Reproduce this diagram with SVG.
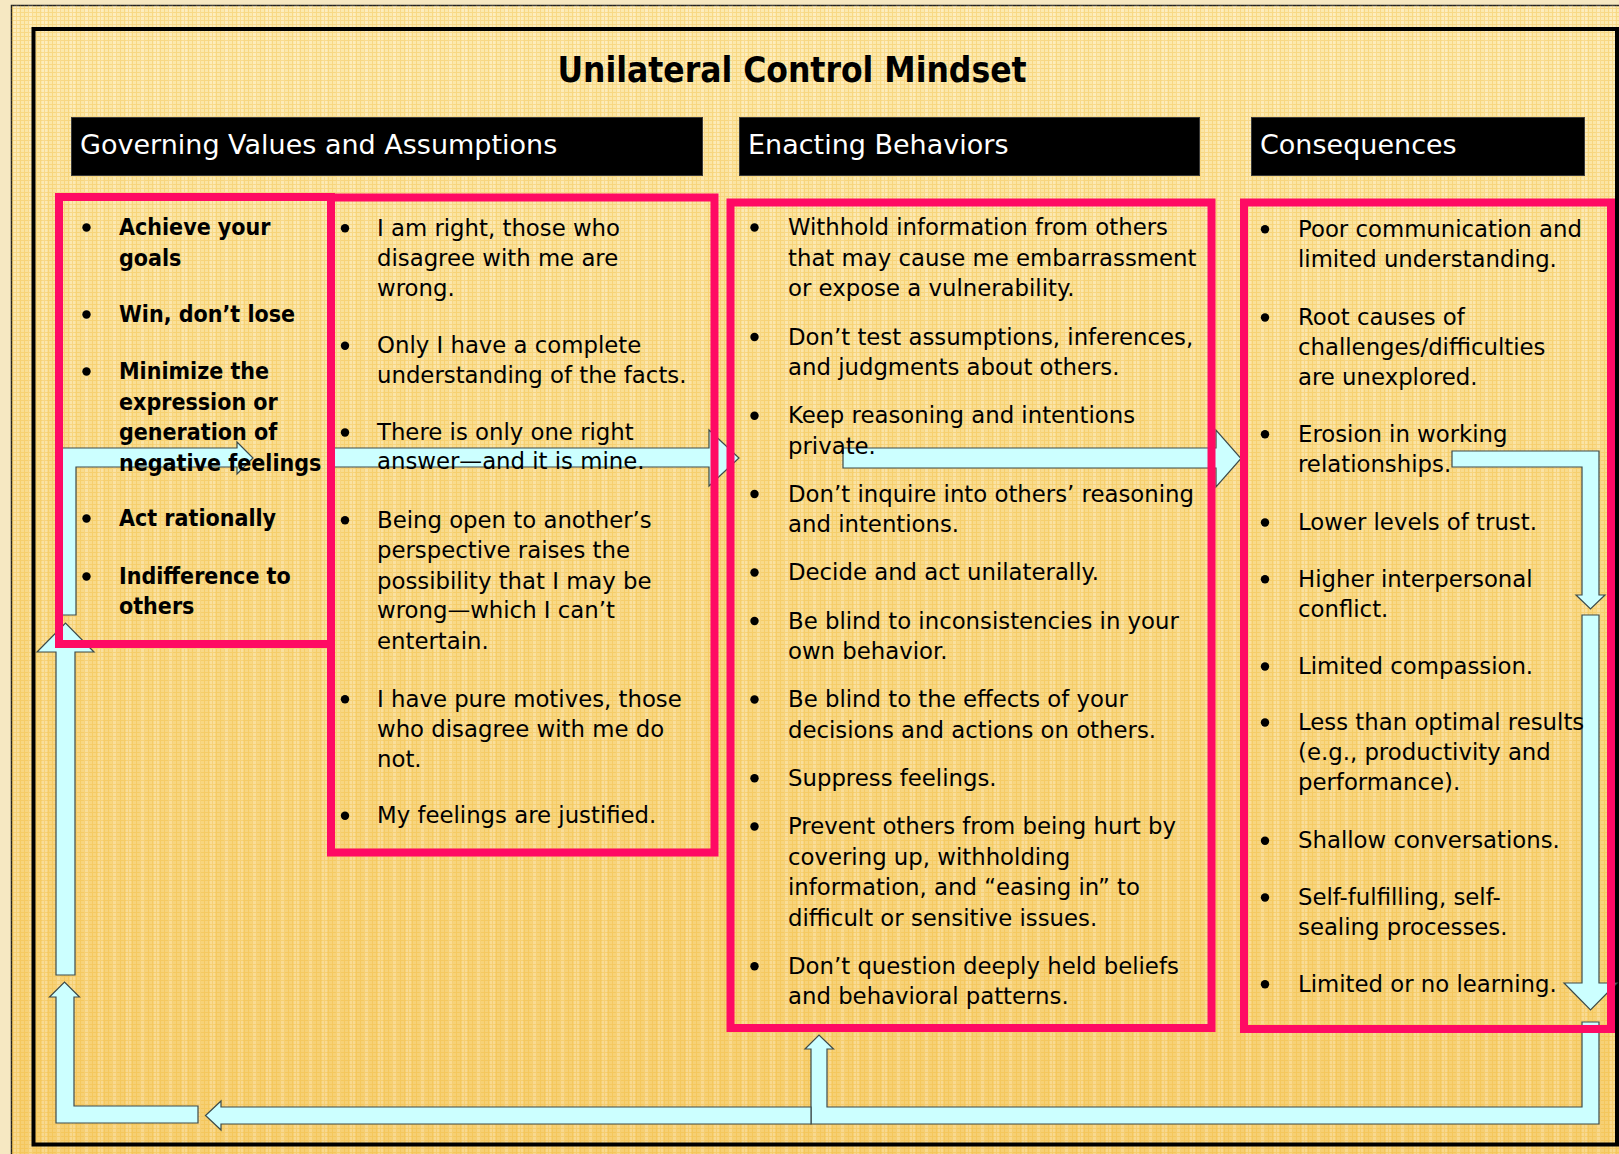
<svg xmlns="http://www.w3.org/2000/svg" width="1619" height="1154" viewBox="0 0 1619 1154">
<defs>
<linearGradient id="bgGrad" x1="0" y1="0" x2="0" y2="1">
<stop offset="0" stop-color="#FCEAB0"/>
<stop offset="0.4" stop-color="#F9DC8E"/>
<stop offset="1" stop-color="#F6CF72"/>
</linearGradient>
<pattern id="grid" width="4" height="4" patternUnits="userSpaceOnUse">
<path d="M0 0.5H4M0.5 0V4" stroke="#EFB22A" stroke-width="1" opacity="0.32"/>
</pattern>
<pattern id="stripes" width="14" height="10" patternUnits="userSpaceOnUse">
<rect width="5" height="10" fill="#FFFFFF" opacity="0.2"/>
</pattern>
<style>
.pink{fill:none;stroke:#FF0A64;stroke-width:8}
.hdr{fill:#000;stroke:#3A3A3A;stroke-width:1}
.hdrt{fill:#FFFFFF;font-family:"DejaVu Sans",sans-serif;font-size:27px}
.body{fill:#000;font-family:"DejaVu Sans",sans-serif;font-size:22.8px}
.bold{fill:#000;font-family:"DejaVu Sans Condensed","DejaVu Sans",sans-serif;font-stretch:condensed;font-weight:bold;font-size:23px}
.title{fill:#000;font-family:"DejaVu Sans Condensed","DejaVu Sans",sans-serif;font-stretch:condensed;font-weight:bold;font-size:35px}
.arr{fill:#CCFFFF;stroke:#3C4A4A;stroke-width:1.2;stroke-linejoin:miter}
.dot{fill:#000}
</style>
</defs>

<g id="background">
<rect width="1619" height="1154" fill="#F6E8C2"/>
<rect x="11.5" y="5.5" width="1620" height="1160" fill="url(#bgGrad)" stroke="#222" stroke-width="1.5"/>
<rect x="11.5" y="5.5" width="1620" height="1160" fill="url(#stripes)"/>
<rect x="11.5" y="5.5" width="1620" height="1160" fill="url(#grid)"/>
<rect x="33.5" y="29" width="1583.5" height="1115.5" fill="none" stroke="#000" stroke-width="4"/>
</g>

<g id="title">
<text class="title" x="792" y="82" text-anchor="middle">Unilateral Control Mindset</text>
</g>

<g id="header-governing">
<rect class="hdr" x="71.5" y="117.5" width="631" height="58"/>
<text class="hdrt" x="80" y="154">Governing Values and Assumptions</text>
</g>
<g id="header-enacting">
<rect class="hdr" x="739.5" y="117.5" width="460" height="58"/>
<text class="hdrt" x="748" y="154">Enacting Behaviors</text>
</g>
<g id="header-consequences">
<rect class="hdr" x="1251.5" y="117.5" width="333" height="58"/>
<text class="hdrt" x="1260" y="154">Consequences</text>
</g>

<g id="connectors">
<polygon id="arrow-a-loop" class="arr" points="57,615 57,448 237,448 237,442 253,458 237,474 237,467 76,467 76,615"/>
<polygon id="arrow-left-up" class="arr" points="56,975 56,652 37,652 65.5,623 94,652 75,652 75,975"/>
<polygon id="arrow-bottom-left" class="arr" points="198,1106 74,1106 74,997 79.5,997 64.5,982 49.5,997 56,997 56,1123 198,1123"/>
<polygon id="arrow-bottom-right" class="arr" points="1582,1022 1599,1022 1599,1124 811,1124 811,1049 805,1049 819,1035 833.5,1049 827,1049 827,1107 1582,1107"/>
<polygon id="arrow-bottom" class="arr" points="811,1107 221,1107 221,1101 205.5,1115.5 221,1130 221,1124 811,1124"/>
<polygon id="arrow-right-down" class="arr" points="1582,615 1599,615 1599,983 1617,983 1590.5,1010 1564,983 1582,983"/>
<polygon id="arrow-d-down" class="arr" points="1452,451 1599,451 1599,595 1605,595 1590.5,609 1576,595 1582,595 1582,467 1452,467"/>
<polygon id="arrow-c-to-d" class="arr" points="843,448 1216,448 1216,430 1241,458.5 1216,487 1216,468 843,468"/>
<polygon id="arrow-b-to-c" class="arr" points="331,448 709,448 709,430 739,458 709,486 709,467 331,467"/>
</g>

<g id="values-box">
<rect class="pink" x="59" y="197" width="272" height="447"/>
<circle class="dot" cx="86.5" cy="227.5" r="4.2"/>
<circle class="dot" cx="86.5" cy="314.5" r="4.2"/>
<circle class="dot" cx="86.5" cy="371.5" r="4.2"/>
<circle class="dot" cx="86.5" cy="518.5" r="4.2"/>
<circle class="dot" cx="86.5" cy="576.5" r="4.2"/>
<text class="bold">
<tspan x="119" y="235">Achieve your</tspan>
<tspan x="119" y="266">goals</tspan>
<tspan x="119" y="322">Win, don’t lose</tspan>
<tspan x="119" y="379">Minimize the</tspan>
<tspan x="119" y="410">expression or</tspan>
<tspan x="119" y="440">generation of</tspan>
<tspan x="119" y="470.5">negative feelings</tspan>
<tspan x="119" y="526">Act rationally</tspan>
<tspan x="119" y="584">Indifference to</tspan>
<tspan x="119" y="614">others</tspan>
</text>
</g>

<g id="assumptions-box">
<rect class="pink" x="331" y="197.5" width="383.5" height="655"/>
<circle class="dot" cx="345" cy="228.2" r="4.2"/>
<circle class="dot" cx="345" cy="345.8" r="4.2"/>
<circle class="dot" cx="345" cy="432.5" r="4.2"/>
<circle class="dot" cx="345" cy="520.2" r="4.2"/>
<circle class="dot" cx="345" cy="699.2" r="4.2"/>
<circle class="dot" cx="345" cy="815.8" r="4.2"/>
<text class="body">
<tspan x="377" y="235.7">I am right, those who</tspan>
<tspan x="377" y="266">disagree with me are</tspan>
<tspan x="377" y="296">wrong.</tspan>
<tspan x="377" y="353.3">Only I have a complete</tspan>
<tspan x="377" y="382.7">understanding of the facts.</tspan>
<tspan x="377" y="440">There is only one right</tspan>
<tspan x="377" y="469.3">answer—and it is mine.</tspan>
<tspan x="377" y="527.7">Being open to another’s</tspan>
<tspan x="377" y="558.3">perspective raises the</tspan>
<tspan x="377" y="589">possibility that I may be</tspan>
<tspan x="377" y="618.3">wrong—which I can’t</tspan>
<tspan x="377" y="649">entertain.</tspan>
<tspan x="377" y="706.7">I have pure motives, those</tspan>
<tspan x="377" y="736.7">who disagree with me do</tspan>
<tspan x="377" y="766.7">not.</tspan>
<tspan x="377" y="823.3">My feelings are justified.</tspan>
</text>
</g>

<g id="behaviors-box">
<rect class="pink" x="730.5" y="202.5" width="481" height="825.5"/>
<circle class="dot" cx="754.5" cy="227.5" r="4.2"/>
<circle class="dot" cx="754.5" cy="337" r="4.2"/>
<circle class="dot" cx="754.5" cy="415.8" r="4.2"/>
<circle class="dot" cx="754.5" cy="494" r="4.2"/>
<circle class="dot" cx="754.5" cy="572.5" r="4.2"/>
<circle class="dot" cx="754.5" cy="621" r="4.2"/>
<circle class="dot" cx="754.5" cy="699.5" r="4.2"/>
<circle class="dot" cx="754.5" cy="778.3" r="4.2"/>
<circle class="dot" cx="754.5" cy="826.5" r="4.2"/>
<circle class="dot" cx="754.5" cy="966.3" r="4.2"/>
<text class="body">
<tspan x="788" y="235">Withhold information from others</tspan>
<tspan x="788" y="265.5">that may cause me embarrassment</tspan>
<tspan x="788" y="296">or expose a vulnerability.</tspan>
<tspan x="788" y="344.5">Don’t test assumptions, inferences,</tspan>
<tspan x="788" y="375">and judgments about others.</tspan>
<tspan x="788" y="423.3">Keep reasoning and intentions</tspan>
<tspan x="788" y="453.8">private.</tspan>
<tspan x="788" y="501.5">Don’t inquire into others’ reasoning</tspan>
<tspan x="788" y="532">and intentions.</tspan>
<tspan x="788" y="580">Decide and act unilaterally.</tspan>
<tspan x="788" y="628.5">Be blind to inconsistencies in your</tspan>
<tspan x="788" y="659">own behavior.</tspan>
<tspan x="788" y="707">Be blind to the effects of your</tspan>
<tspan x="788" y="737.5">decisions and actions on others.</tspan>
<tspan x="788" y="785.8">Suppress feelings.</tspan>
<tspan x="788" y="834">Prevent others from being hurt by</tspan>
<tspan x="788" y="864.5">covering up, withholding</tspan>
<tspan x="788" y="895">information, and “easing in” to</tspan>
<tspan x="788" y="925.5">difficult or sensitive issues.</tspan>
<tspan x="788" y="973.8">Don’t question deeply held beliefs</tspan>
<tspan x="788" y="1004.3">and behavioral patterns.</tspan>
</text>
</g>

<g id="consequences-box">
<rect class="pink" x="1244" y="202.5" width="367" height="826.5"/>
<circle class="dot" cx="1265" cy="229.2" r="4.2"/>
<circle class="dot" cx="1265" cy="317.5" r="4.2"/>
<circle class="dot" cx="1265" cy="434.2" r="4.2"/>
<circle class="dot" cx="1265" cy="522.5" r="4.2"/>
<circle class="dot" cx="1265" cy="579.2" r="4.2"/>
<circle class="dot" cx="1265" cy="666.5" r="4.2"/>
<circle class="dot" cx="1265" cy="722.5" r="4.2"/>
<circle class="dot" cx="1265" cy="840.8" r="4.2"/>
<circle class="dot" cx="1265" cy="897.5" r="4.2"/>
<circle class="dot" cx="1265" cy="984.2" r="4.2"/>
<text class="body">
<tspan x="1298" y="236.7">Poor communication and</tspan>
<tspan x="1298" y="267.3">limited understanding.</tspan>
<tspan x="1298" y="325">Root causes of</tspan>
<tspan x="1298" y="355">challenges/difficulties</tspan>
<tspan x="1298" y="385">are unexplored.</tspan>
<tspan x="1298" y="441.7">Erosion in working</tspan>
<tspan x="1298" y="472">relationships.</tspan>
<tspan x="1298" y="530">Lower levels of trust.</tspan>
<tspan x="1298" y="586.7">Higher interpersonal</tspan>
<tspan x="1298" y="616.7">conflict.</tspan>
<tspan x="1298" y="674">Limited compassion.</tspan>
<tspan x="1298" y="730">Less than optimal results</tspan>
<tspan x="1298" y="760">(e.g., productivity and</tspan>
<tspan x="1298" y="790">performance).</tspan>
<tspan x="1298" y="848.3">Shallow conversations.</tspan>
<tspan x="1298" y="905">Self-fulfilling, self-</tspan>
<tspan x="1298" y="935">sealing processes.</tspan>
<tspan x="1298" y="991.7">Limited or no learning.</tspan>
</text>
</g>
</svg>
